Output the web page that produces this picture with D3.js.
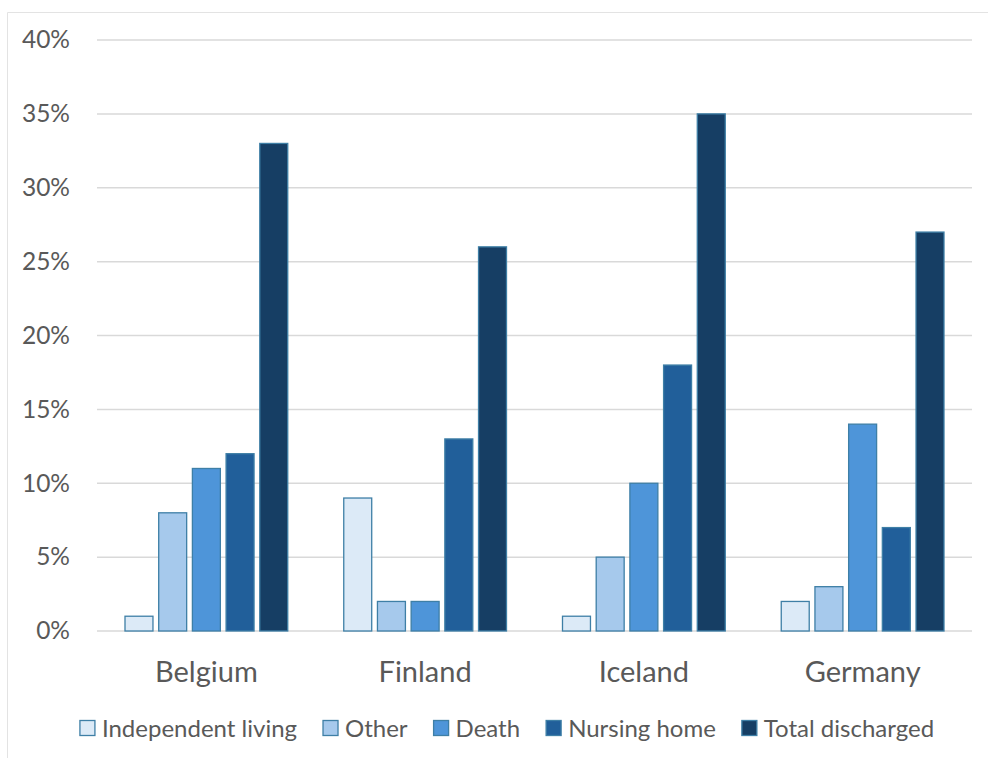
<!DOCTYPE html>
<html>
<head>
<meta charset="utf-8">
<script src="https://cdn.jsdelivr.net/npm/d3@7"></script>
<style>
  html, body { margin: 0; padding: 0; background: #fff; }
  svg { display: block; }
  text { font-family: Lato, "Open Sans", sans-serif; fill: #595959; }
</style>
</head>
<body>
<svg id="chart" width="988" height="758"></svg>
<script>
// Discharge destinations by country (share of patients, %)
const countries = ["Belgium", "Finland", "Iceland", "Germany"];
const seriesNames = ["Independent living", "Other", "Death", "Nursing home", "Total discharged"];
const independentLiving = [1, 9, 1, 2];
const other = [8, 2, 5, 3];
const death = [11, 2, 10, 14];
const nursingHome = [12, 13, 18, 7];
const totalDischarged = [33, 26, 35, 27];
const yTicks = [0, 5, 10, 15, 20, 25, 30, 35, 40];
const seriesColors = ["#DCEAF7", "#A6C9EC", "#4E95D9", "#215F9A", "#163E64"];

const seriesValues = [independentLiving, other, death, nursingHome, totalDischarged];

const svg = d3.select("#chart");
const W = 988, H = 758;
const margin = { left: 97, right: 16, top: 40, bottom: 127 };
const plotW = W - margin.left - margin.right;
const plotH = H - margin.top - margin.bottom;

// Chart frame (top and left edges visible)
svg.append("path")
  .attr("d", `M7.5,${H} V12.5 H${W}`)
  .attr("fill", "none")
  .attr("stroke", "#e3e3e3")
  .attr("stroke-width", 1);

const g = svg.append("g").attr("transform", `translate(${margin.left},${margin.top})`);

const x0 = d3.scaleBand().domain(countries).range([0, plotW]).paddingInner(0).paddingOuter(0);
const x1 = d3.scaleBand().domain(seriesNames)
  .range([28, x0.bandwidth() - 28]).paddingInner(0.17).paddingOuter(0);
const y = d3.scaleLinear().domain([0, 40]).range([plotH, 0]);

// Gridlines
g.append("g").selectAll("line").data(yTicks).join("line")
  .attr("x1", 0).attr("x2", plotW)
  .attr("y1", d => y(d)).attr("y2", d => y(d))
  .attr("stroke", "#d9d9d9").attr("stroke-width", 1.5);

// Y axis labels
const yAxis = d3.axisLeft(y).tickValues(yTicks).tickFormat(d => d + "%").tickSize(0).tickPadding(27);
const ya = g.append("g").call(yAxis);
ya.select(".domain").remove();
ya.selectAll("text")
  .attr("font-size", 24.5)
  .attr("fill", "#595959")
  .style("font-family", "Lato, 'Open Sans', sans-serif");

// Bars
const groups = g.append("g").selectAll("g").data(countries).join("g")
  .attr("transform", d => `translate(${x0(d)},0)`);

groups.selectAll("rect")
  .data((c, ci) => seriesNames.map((s, si) => ({ s, si, v: seriesValues[si][ci] })))
  .join("rect")
  .attr("x", d => x1(d.s))
  .attr("width", x1.bandwidth())
  .attr("y", d => y(d.v))
  .attr("height", d => y(0) - y(d.v))
  .attr("fill", d => seriesColors[d.si])
  .attr("stroke", "#3E7FA6")
  .attr("stroke-width", 1.3);

// Category axis labels
const xAxis = d3.axisBottom(x0).tickSize(0).tickPadding(30);
const xa = g.append("g").attr("transform", `translate(0,${plotH})`).call(xAxis);
xa.select(".domain").remove();
xa.selectAll("text")
  .attr("font-size", 29)
  .attr("fill", "#595959")
  .style("font-family", "Lato, 'Open Sans', sans-serif");

// Legend
const legend = svg.append("g");
const items = legend.selectAll("g").data(seriesNames).join("g");
items.append("rect")
  .attr("width", 15).attr("height", 15)
  .attr("y", -7.5)
  .attr("fill", (d, i) => seriesColors[i])
  .attr("stroke", "#3E7FA6").attr("stroke-width", 1.3);
items.append("text")
  .attr("x", 22).attr("y", 8.5)
  .attr("font-size", 24)
  .text(d => d);
let cx = 0;
const offsets = [];
items.each(function () {
  offsets.push(cx);
  const tw = d3.select(this).select("text").node().getComputedTextLength();
  cx += 22 + tw + 26;
});
const totalW = cx - 26;
items.attr("transform", (d, i) => `translate(${offsets[i]},0)`);
legend.attr("transform", `translate(${507 - totalW / 2},728)`);
</script>
</body>
</html>
